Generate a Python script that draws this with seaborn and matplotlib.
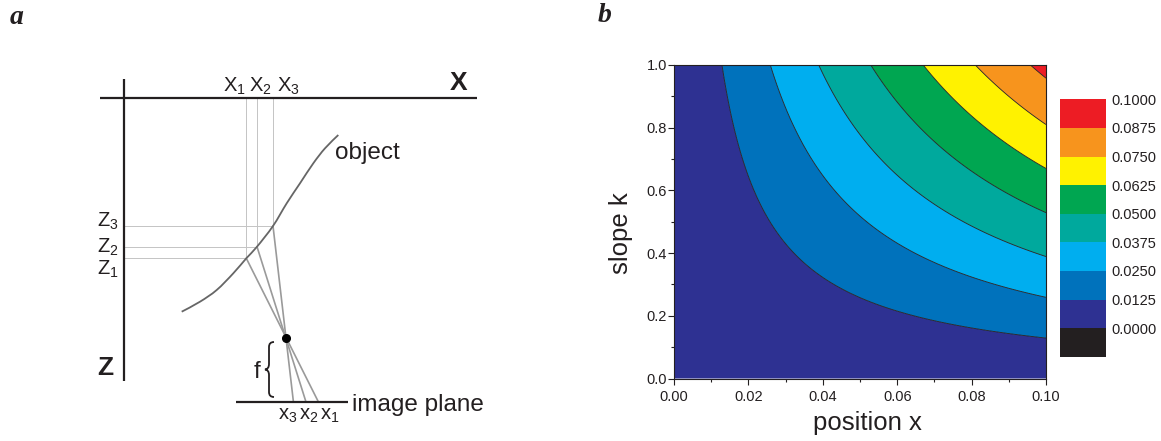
import numpy as np
import matplotlib
matplotlib.use("Agg")
import matplotlib.pyplot as plt
import seaborn as sns
from matplotlib.colors import ListedColormap, BoundaryNorm
from matplotlib.cm import ScalarMappable
from matplotlib.path import Path
from matplotlib.patches import PathPatch
from matplotlib.ticker import MultipleLocator, FormatStrFormatter

# ---------------- data: panel b ----------------
x_range = [0.0, 0.10]                 # position x
k_range = [0.0, 1.0]                  # slope k
# contour boundaries (k*x)
contour_levels = [0.0129, 0.0259, 0.0389, 0.0529, 0.0670, 0.0810, 0.0958]
# colour-key labels and band colours
key_labels = [0.0000, 0.0125, 0.0250, 0.0375, 0.0500, 0.0625, 0.0750, 0.0875, 0.1000]
band_colors = ["#2E3192", "#0072BC", "#00AEEF", "#00A99D",
               "#00A651", "#FFF200", "#F7941D", "#ED1C24"]
below_color = "#231F20"
x_ticks = [0.00, 0.02, 0.04, 0.06, 0.08, 0.10]
k_ticks = [0.0, 0.2, 0.4, 0.6, 0.8, 1.0]

# ---------------- data: panel a (diagram, pixel units) ----------------
object_x = [181.7, 200.0, 216.7, 233.3, 246.3, 257.0, 273.0, 286.7, 300.0, 313.3, 325.0, 338.3]
object_z = [311.7, 301.7, 290.0, 273.3, 258.3, 246.7, 226.0, 203.3, 183.3, 163.3, 148.3, 135.0]
obj_pts_x = [246.3, 257.0, 273.0]     # X1, X2, X3
obj_pts_z = [258.3, 246.7, 226.0]     # Z1, Z2, Z3
img_pts_x = [318.3, 305.9, 293.4]     # x1, x2, x3 on image plane
lens = (286.0, 337.7)
image_plane_z = 401.7

sns.set_theme(style="ticks")
plt.rcParams["font.family"] = ["Liberation Sans", "DejaVu Sans"]
plt.rcParams["mathtext.fontset"] = "custom"
plt.rcParams["mathtext.rm"] = "Liberation Sans"
plt.rcParams["mathtext.it"] = "Liberation Sans"
plt.rcParams["mathtext.bf"] = "Liberation Sans:bold"

TXT = "#231F20"
W, H = 1161, 441
fig = plt.figure(figsize=(W / 100, H / 100), dpi=100)

# ================= panel a =================
axa = fig.add_axes([0, 0, 580 / W, 1])
axa.set_xlim(0, 580)
axa.set_ylim(H, 0)
axa.axis("off")

# construction lines
for px, pz in zip(obj_pts_x, obj_pts_z):
    axa.plot([px, px], [97.7, pz], color="#C4C4C4", lw=0.7, zorder=1)
    axa.plot([124.3, px], [pz, pz], color="#C4C4C4", lw=0.7, zorder=1)
# rays through the lens
for px, pz, ix in zip(obj_pts_x, obj_pts_z, img_pts_x):
    axa.plot([px, ix], [pz, image_plane_z], color="#9A9A9A", lw=1.2, zorder=2)

# object curve: smooth cubic path through the read points (Catmull-Rom style)
P = np.column_stack([object_x, object_z])
verts = [tuple(P[0])]
codes = [Path.MOVETO]
n = len(P)
for i in range(n - 1):
    p0 = P[max(i - 1, 0)]
    p1 = P[i]
    p2 = P[i + 1]
    p3 = P[min(i + 2, n - 1)]
    c1 = p1 + (p2 - p0) / 6.0
    c2 = p2 - (p3 - p1) / 6.0
    verts += [tuple(c1), tuple(c2), tuple(p2)]
    codes += [Path.CURVE4, Path.CURVE4, Path.CURVE4]
axa.add_patch(PathPatch(Path(verts, codes), fill=False, edgecolor="#666666", lw=1.3,
                        capstyle="butt", zorder=3))

# axes
axa.plot([100, 477], [97.7, 97.7], color=TXT, lw=1.6, solid_capstyle="butt", zorder=4)
axa.plot([124.3, 124.3], [79, 381], color=TXT, lw=1.6, solid_capstyle="butt", zorder=4)
axa.plot([235.7, 347.7], [image_plane_z, image_plane_z], color=TXT, lw=1.6,
         solid_capstyle="butt", zorder=4)
axa.plot([lens[0]], [lens[1]], "o", color="black", ms=5.5, zorder=5)

# brace for f
bverts = [(274, 342), (269, 342), (269, 347),
          (269, 364),
          (269, 369), (265, 369.5),
          (269, 370), (269, 375),
          (269, 392),
          (269, 397), (274, 397)]
bcodes = [Path.MOVETO, Path.CURVE3, Path.CURVE3,
          Path.LINETO,
          Path.CURVE3, Path.CURVE3,
          Path.CURVE3, Path.CURVE3,
          Path.LINETO,
          Path.CURVE3, Path.CURVE3]
axa.add_patch(PathPatch(Path(bverts, bcodes), fill=False, edgecolor=TXT, lw=1.3))

# texts
axa.text(17, 18, "a", fontsize=20, fontweight="bold", fontstyle="italic",
         family="Liberation Serif", color=TXT, ha="center", va="center")
axa.text(459, 90, "X", fontsize=19, fontweight="bold", color=TXT, ha="center", va="baseline")
axa.text(105, 375, "Z", fontsize=19, fontweight="bold", color=TXT, ha="center", va="baseline")
for lab, cx in zip(["1", "2", "3"], [234, 260, 288]):
    axa.text(cx, 91.5, "X$_{" + lab + "}$", fontsize=14.5, color=TXT, ha="center", va="baseline")
for lab, base in zip(["3", "2", "1"], [226.7, 252.7, 275.0]):
    axa.text(108, base, "Z$_{" + lab + "}$", fontsize=14.5, color=TXT, ha="center", va="baseline")
for lab, cx in zip(["3", "2", "1"], [288, 309, 330]):
    axa.text(cx, 420, "x$_{" + lab + "}$", fontsize=14.5, color=TXT, ha="center", va="baseline")
axa.text(335, 159.5, "object", fontsize=17.5, color=TXT, ha="left", va="baseline")
axa.text(352.5, 410.7, "image plane", fontsize=17.5, color=TXT, ha="left", va="baseline")
axa.text(256.5, 378.3, "f", fontsize=17.5, color=TXT, ha="center", va="baseline")

# ================= panel b =================
fig.text(605 / W, 1 - 15 / H, "b", fontsize=20, fontweight="bold", fontstyle="italic",
         family="Liberation Serif", color=TXT, ha="center", va="center")

left, right, top, bottom = 674, 1046, 65, 378.5
axb = fig.add_axes([left / W, 1 - bottom / H, (right - left) / W, (bottom - top) / H])
xs = np.linspace(x_range[0], x_range[1], 401)
ks = np.linspace(k_range[0], k_range[1], 401)
XX, KK = np.meshgrid(xs, ks)
ZZ = XX * KK
fill_levels = [0.0] + contour_levels + [0.1]
axb.contourf(XX, KK, ZZ, levels=fill_levels, colors=band_colors, antialiased=True)
axb.contour(XX, KK, ZZ, levels=contour_levels, colors=TXT, linewidths=0.6)
axb.set_xlim(*x_range)
axb.set_ylim(*k_range)
axb.set_xticks(x_ticks)
axb.set_yticks(k_ticks)
axb.xaxis.set_minor_locator(MultipleLocator(0.01))
axb.yaxis.set_minor_locator(MultipleLocator(0.1))
axb.xaxis.set_major_formatter(FormatStrFormatter("%.2f"))
axb.yaxis.set_major_formatter(FormatStrFormatter("%.1f"))
axb.tick_params(which="major", direction="out", length=4, width=0.8, color=TXT,
                labelsize=10.5, labelcolor=TXT)
axb.tick_params(axis="y", which="major", pad=1)
axb.tick_params(axis="x", which="major", pad=4)
axb.tick_params(which="minor", direction="out", length=2.5, width=0.8, color=TXT)
for sp in axb.spines.values():
    sp.set_color(TXT)
    sp.set_linewidth(0.8)
axb.set_xlabel("position x", fontsize=18.5, color=TXT, va="top")
axb.set_ylabel("slope k", fontsize=18.5, color=TXT)
axb.xaxis.set_label_coords(0.52, -0.104)
axb.yaxis.set_label_coords(-0.11, 0.464)

# colour key
cb_left, cb_right, cb_top, cb_bottom = 1060, 1105.7, 99.3, 356.7
cax = fig.add_axes([cb_left / W, 1 - cb_bottom / H, (cb_right - cb_left) / W,
                    (cb_bottom - cb_top) / H])
step = key_labels[1] - key_labels[0]
bounds = [key_labels[0] - step] + key_labels
cmap = ListedColormap([below_color] + band_colors)
norm = BoundaryNorm(bounds, cmap.N)
cb = fig.colorbar(ScalarMappable(norm=norm, cmap=cmap), cax=cax, ticks=key_labels,
                  spacing="uniform")
cb.outline.set_visible(False)
cb.minorticks_off()
cax.set_yticklabels([f"{v:.4f}" for v in key_labels])
cax.tick_params(which="both", length=0, width=0, pad=4, labelsize=10.5, labelcolor=TXT)

fig.savefig("out.png", dpi=100)
